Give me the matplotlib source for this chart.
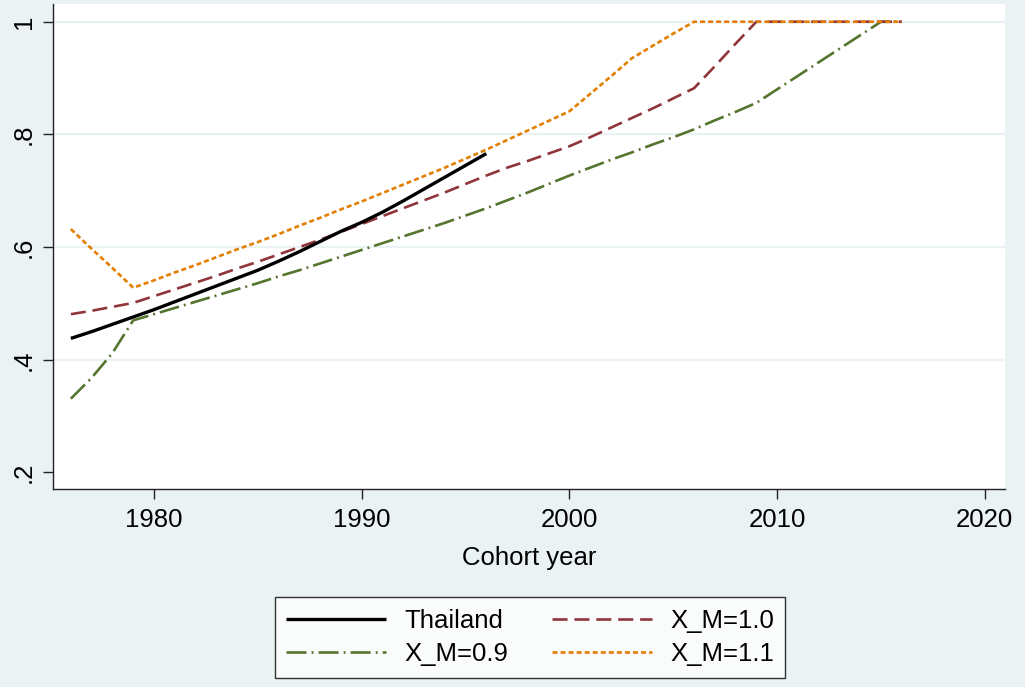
import matplotlib
matplotlib.use("Agg")
import matplotlib.pyplot as plt

plt.rcParams['font.family'] = ['Liberation Sans', 'DejaVu Sans']

years_th = list(range(1976, 1997))
thailand = [0.438, 0.450, 0.463, 0.476, 0.489, 0.503, 0.517, 0.531, 0.545, 0.559,
            0.575, 0.592, 0.610, 0.628, 0.644, 0.662, 0.682, 0.703, 0.724, 0.745, 0.766]

years_sim = list(range(1976, 2017))
xm_10 = [0.481, 0.487, 0.494, 0.501, 0.513, 0.525, 0.537, 0.549, 0.562, 0.574,
         0.587, 0.600, 0.613, 0.627, 0.641, 0.655, 0.669, 0.683, 0.697, 0.712,
         0.727, 0.741, 0.753, 0.766, 0.779, 0.795, 0.812, 0.829, 0.846, 0.864,
         0.882, 0.921, 0.961, 1.0, 1.0, 1.0, 1.0, 1.0, 1.0, 1.0, 1.0]
xm_09 = [0.331, 0.368, 0.412, 0.470, 0.481, 0.492, 0.503, 0.514, 0.525, 0.536,
         0.548, 0.559, 0.571, 0.583, 0.595, 0.607, 0.619, 0.631, 0.643, 0.656,
         0.669, 0.683, 0.697, 0.712, 0.727, 0.741, 0.755, 0.768, 0.782, 0.795,
         0.809, 0.825, 0.840, 0.856, 0.880, 0.904, 0.928, 0.952, 0.976, 1.0, 1.0]
xm_11 = [0.632, 0.597, 0.563, 0.528, 0.541, 0.555, 0.568, 0.582, 0.596, 0.609,
         0.623, 0.638, 0.652, 0.667, 0.681, 0.696, 0.711, 0.726, 0.741, 0.757,
         0.773, 0.790, 0.807, 0.824, 0.841, 0.872, 0.903, 0.935, 0.957, 0.979,
         1.0, 1.0, 1.0, 1.0, 1.0, 1.0, 1.0, 1.0, 1.0, 1.0, 1.0]

xticks = [1980, 1990, 2000, 2010, 2020]
yticks = [0.2, 0.4, 0.6, 0.8, 1.0]
ytick_labels = ['.2', '.4', '.6', '.8', '1']

bg = '#EAF2F3'
fig = plt.figure(figsize=(10.25, 6.87), dpi=100, facecolor=bg)
ax = fig.add_axes([53/1025, 1-489/687, (1005-53)/1025, (489-4)/687])
ax.set_facecolor('white')

l1, = ax.plot(years_th, thailand, color='black', lw=2.4, solid_capstyle='butt', label='Thailand', zorder=5)
l2, = ax.plot(years_sim, xm_10, color='#90353B', lw=1.9, dashes=(5.7, 2.6), label='X_M=1.0', zorder=3)
l3, = ax.plot(years_sim, xm_09, color='#55752F', lw=1.9, dashes=(7.6, 1.9, 0.75, 1.9), label='X_M=0.9', zorder=2)
l4, = ax.plot(years_sim, xm_11, color='#E37E00', lw=1.9, dashes=(1.9, 1.15), label='X_M=1.1', zorder=4)

ax.set_xlim(1975.14, 2020.97)
ax.set_ylim(0.1707, 1.0315)
ax.set_xticks(xticks)
ax.set_xticklabels([str(x) for x in xticks])
ax.set_yticks(yticks)
ax.set_yticklabels(ytick_labels, rotation=90, va='center')

ax.yaxis.grid(True, color=bg, lw=1.6)
ax.set_axisbelow(True)
glines = ax.yaxis.get_gridlines()
glines[0].set_visible(False)

for s in ['top', 'right']:
    ax.spines[s].set_visible(False)
for s in ['left', 'bottom']:
    ax.spines[s].set_color('#222222')
    ax.spines[s].set_linewidth(1.0)

ax.tick_params(axis='both', labelsize=18.5, length=7.5, width=1.0, color='#222222', direction='out')
ax.tick_params(axis='x', pad=6)
ax.tick_params(axis='y', pad=5)

ax.set_xlabel('Cohort year', fontsize=18.5, labelpad=10)

leg = fig.legend(handles=[l1, l3, l2, l4], labels=['Thailand', 'X_M=0.9', 'X_M=1.0', 'X_M=1.1'],
                 loc='center', bbox_to_anchor=(530/1025, 1-637.5/687), ncol=2,
                 fontsize=18.5, frameon=True, fancybox=False, edgecolor='black',
                 handlelength=3.9, handletextpad=0.7, columnspacing=1.7, labelspacing=0.35,
                 borderpad=0.45)
leg.get_frame().set_linewidth(1.0)
leg.get_frame().set_facecolor('white')

fig.savefig('out.png', dpi=100, facecolor=bg)
